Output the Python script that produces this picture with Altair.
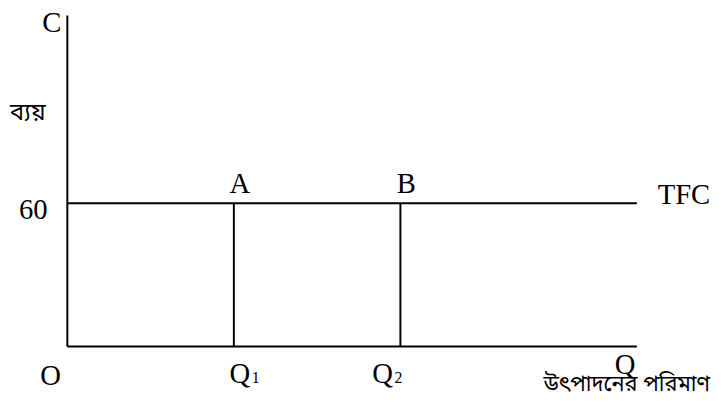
import altair as alt
import pandas as pd

# ---- data ----
tfc_value = 60            # total fixed cost
q_positions = [1, 2]      # Q1, Q2
point_names = ["A", "B"]
q_subscripts = ["1", "2"]
x_axis_end = 3.42
y_axis_end = 138.6

SERIF = "Liberation Serif"
BENG = "Noto Sans Bengali, Noto Serif Bengali, Lohit Bengali, Noto Sans"
FS = 29

xs = alt.Scale(domain=[0, 3.8], nice=False, zero=False)
ys = alt.Scale(domain=[0, 140], nice=False, zero=False)

# segments: axes, TFC line, verticals
seg = pd.DataFrame({
    "x": [0, 0, 0] + q_positions,
    "x2": [0, x_axis_end, x_axis_end] + q_positions,
    "y": [0, 0, tfc_value] + [0] * len(q_positions),
    "y2": [y_axis_end, 0, tfc_value] + [tfc_value] * len(q_positions),
})

rules = alt.Chart(seg).mark_rule(color="black", strokeWidth=2).encode(
    x=alt.X("x:Q", scale=xs, axis=None),
    x2="x2:Q",
    y=alt.Y("y:Q", scale=ys, axis=None),
    y2="y2:Q",
)

def label(df, **kw):
    base = dict(font=SERIF, fontSize=FS, color="black", baseline="alphabetic")
    base.update(kw)
    return alt.Chart(df).mark_text(**base).encode(
        x=alt.X("x:Q", scale=xs, axis=None),
        y=alt.Y("y:Q", scale=ys, axis=None),
        text="t:N",
    )

c_lab = label(pd.DataFrame({"x": [0], "y": [y_axis_end], "t": ["C"]}), align="right", dx=-6, dy=17)
sixty = label(pd.DataFrame({"x": [0], "y": [tfc_value], "t": [str(tfc_value)]}), align="right", dx=-20, dy=16)
ab = label(pd.DataFrame({"x": q_positions, "y": [tfc_value] * 2, "t": point_names}), align="center", dx=6, dy=-10)
tfc = label(pd.DataFrame({"x": [x_axis_end], "y": [tfc_value], "t": ["TFC"]}), align="left", dx=21, dy=1)
o_lab = label(pd.DataFrame({"x": [0], "y": [0], "t": ["O"]}), align="center", dx=-17, dy=39)
q1 = label(pd.DataFrame({"x": [q_positions[0]], "y": [0], "t": ["Q"]}), align="center", dx=6, dy=37)
q1s = label(pd.DataFrame({"x": [q_positions[0]], "y": [0], "t": [q_subscripts[0]]}), align="left", dx=18, dy=37, fontSize=16)
q2 = label(pd.DataFrame({"x": [q_positions[1]], "y": [0], "t": ["Q"]}), align="center", dx=-18, dy=37)
q2s = label(pd.DataFrame({"x": [q_positions[1]], "y": [0], "t": [q_subscripts[1]]}), align="left", dx=-6, dy=37, fontSize=16)
q_end = label(pd.DataFrame({"x": [x_axis_end], "y": [0], "t": ["Q"]}), align="center", dx=-12, dy=28)
q_title = label(pd.DataFrame({"x": [x_axis_end], "y": [0], "t": ["উৎপাদনের পরিমাণ"]}), align="right", dx=74, dy=45, font=BENG, fontSize=22)
c_title = label(pd.DataFrame({"x": [0], "y": [y_axis_end], "t": ["ব্যয়"]}), align="center", dx=-40, dy=106, font=BENG, fontSize=24)

chart = alt.layer(
    rules, c_lab, sixty, ab, tfc, o_lab, q1, q1s, q2, q2s, q_end, q_title, c_title
).properties(
    width=640, height=338,
    padding={"left": 60, "top": 2, "right": 14, "bottom": 62},
    autosize=alt.AutoSizeParams(type="none"),
).configure(background="white").configure_view(stroke=None, strokeWidth=0)

chart.save("out.html", embed_options={"renderer": "svg", "actions": False})
